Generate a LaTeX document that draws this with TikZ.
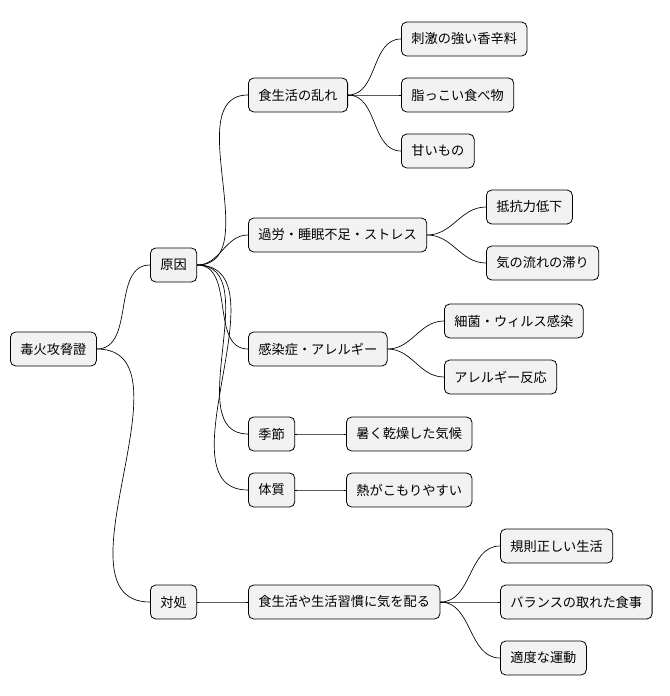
\documentclass[tikz,border=0pt]{standalone}
\usepackage{fontspec}
\setmainfont{Noto Sans CJK JP}
\begin{document}
\begin{tikzpicture}[x=0.75pt,y=-0.75pt,
  box/.style={draw=black,line width=0.6pt,fill=black!5,rounded corners=4pt,minimum height=25.5pt,inner xsep=7.5pt,font=\fontsize{9.9}{11}\selectfont},
  e/.style={draw=black,line width=0.5pt}]
\useasboundingbox (0,0) rectangle (670,696);
\node[box,anchor=west] (r) at (10,349) {毒火攻脅證};
\node[box,anchor=west] (a) at (150,265) {原因};
\node[box,anchor=west] (b) at (150,602) {対処};
\node[box,anchor=west] (a1) at (248,95) {食生活の乱れ};
\node[box,anchor=west] (a2) at (248,235) {過労・睡眠不足・ストレス};
\node[box,anchor=west] (a3) at (248,349) {感染症・アレルギー};
\node[box,anchor=west] (a4) at (248,434) {季節};
\node[box,anchor=west] (a5) at (248,490) {体質};
\node[box,anchor=west] (b1) at (248,602) {食生活や生活習慣に気を配る};
\node[box,anchor=west] (a11) at (401,39) {刺激の強い香辛料};
\node[box,anchor=west] (a12) at (401,95) {脂っこい食べ物};
\node[box,anchor=west] (a13) at (401,151) {甘いもの};
\node[box,anchor=west] (a21) at (486,207) {抵抗力低下};
\node[box,anchor=west] (a22) at (486,263) {気の流れの滞り};
\node[box,anchor=west] (a31) at (444,321) {細菌・ウィルス感染};
\node[box,anchor=west] (a32) at (444,377) {アレルギー反応};
\node[box,anchor=west] (a41) at (346,434) {暑く乾燥した気候};
\node[box,anchor=west] (a51) at (346,490) {熱がこもりやすい};
\node[box,anchor=west] (b11) at (500,546) {規則正しい生活};
\node[box,anchor=west] (b12) at (500,602) {バランスの取れた食事};
\node[box,anchor=west] (b13) at (500,658) {適度な運動};
\foreach \p/\c in {r/a,r/b,a/a1,a/a2,a/a3,a/a4,a/a5,b/b1,a1/a11,a1/a12,a1/a13,a2/a21,a2/a22,a3/a31,a3/a32,a4/a41,a5/a51,b1/b11,b1/b12,b1/b13}
  \draw[e] (\p.east) to[out=0,in=180] (\c.west);
\end{tikzpicture}
\end{document}
